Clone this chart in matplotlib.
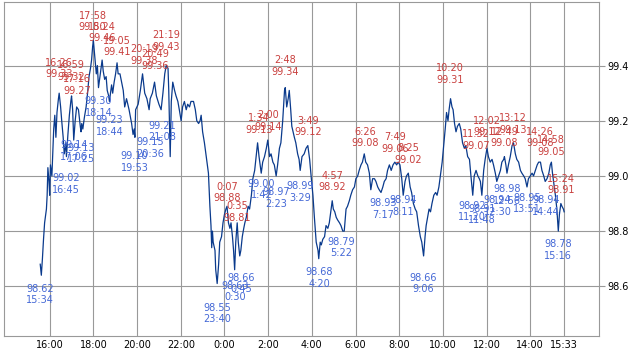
import matplotlib
matplotlib.use("Agg")
import matplotlib.pyplot as plt
import pandas as pd

# price trace (day 1 15:34 -> day 2 15:33)
line_times = [
    '15:34', '15:37', '15:40', '15:43', '15:46', '15:51', '15:53', '15:55', '15:58',
    '16:00', '16:02', '16:06', '16:09', '16:11', '16:14', '16:17', '16:20', '16:24', '16:26',
    '16:30', '16:33', '16:37', '16:40', '16:44', '16:46', '16:50', '16:54', '16:58',
    '17:00', '17:03', '17:06', '17:10', '17:14', '17:19', '17:24', '17:26', '17:28', '17:31',
    '17:35', '17:40', '17:44', '17:48', '17:52', '17:55', '17:58',
    '18:00', '18:04', '18:08', '18:11', '18:14', '18:17', '18:20', '18:24', '18:27', '18:31',
    '18:35', '18:38', '18:42', '18:44', '18:47', '18:50', '18:53', '18:57',
    '19:01', '19:05', '19:08', '19:13', '19:22', '19:26', '19:31', '19:38', '19:45', '19:49',
    '19:52', '19:54', '19:56',
    '20:03', '20:09', '20:15', '20:21', '20:27', '20:33', '20:36', '20:42', '20:48', '20:53',
    '21:00', '21:06', '21:11', '21:16', '21:20', '21:25', '21:27', '21:29', '21:31', '21:34',
    '21:38', '21:43', '21:47', '21:52', '21:56',
    '22:01', '22:05', '22:10', '22:15', '22:19', '22:24', '22:28', '22:35', '22:40', '22:44',
    '22:49', '22:53', '22:56',
    '23:00', '23:05', '23:09', '23:12', '23:16', '23:18', '23:20', '23:23', '23:25', '23:27',
    '23:29', '23:34', '23:36', '23:40', '23:44', '23:47', '23:52', '23:56',
    '0:00', '0:04', '0:07', '0:11', '0:15', '0:18', '0:22', '0:25', '0:28', '0:31', '0:35',
    '0:38', '0:42', '0:45', '0:49', '0:53', '0:56',
    '1:00', '1:05', '1:09', '1:14', '1:18', '1:23', '1:27', '1:31', '1:35', '1:38', '1:41',
    '1:45', '1:50', '1:55', '1:59',
    '2:04', '2:08', '2:13', '2:17', '2:22', '2:26', '2:31', '2:35', '2:40', '2:45', '2:47',
    '2:51', '2:55', '2:58',
    '3:02', '3:05', '3:12', '3:16', '3:21', '3:25', '3:28', '3:33', '3:39', '3:44', '3:49',
    '3:54', '3:58',
    '4:03', '4:07', '4:12', '4:17', '4:19', '4:23', '4:26', '4:30', '4:35', '4:39', '4:44',
    '4:48', '4:53', '4:56', '4:59',
    '5:03', '5:07', '5:11', '5:16', '5:20', '5:25', '5:29', '5:34', '5:38', '5:43', '5:47',
    '5:52', '5:57',
    '6:01', '6:06', '6:10', '6:15', '6:19', '6:24', '6:28', '6:33', '6:38', '6:42', '6:47',
    '6:52', '6:56',
    '7:01', '7:05', '7:10', '7:15', '7:19', '7:24', '7:28', '7:33', '7:38', '7:43', '7:48',
    '7:53', '7:57',
    '8:02', '8:07', '8:11', '8:16', '8:20', '8:25', '8:30', '8:34', '8:39', '8:44', '8:48',
    '8:53', '8:58',
    '9:02', '9:07', '9:11', '9:14', '9:18', '9:22', '9:26', '9:30', '9:35', '9:40', '9:44',
    '9:49', '9:53', '9:58',
    '10:03', '10:07', '10:10', '10:14', '10:17', '10:21', '10:25', '10:28', '10:32', '10:36',
    '10:40', '10:45', '10:49', '10:54', '10:59',
    '11:03', '11:08', '11:13', '11:17', '11:22', '11:26', '11:31', '11:36', '11:40', '11:43',
    '11:47', '11:52', '11:56',
    '12:01', '12:05', '12:10', '12:15', '12:19', '12:24', '12:28', '12:33', '12:38', '12:42',
    '12:47', '12:49', '12:53', '12:56',
    '13:00', '13:05', '13:10', '13:14', '13:19', '13:23', '13:28', '13:33', '13:37', '13:42',
    '13:46', '13:51', '13:55',
    '14:00', '14:05', '14:09', '14:14', '14:19', '14:23', '14:28', '14:32', '14:37', '14:41',
    '14:46', '14:51', '14:55', '14:58',
    '15:01', '15:04', '15:09', '15:13', '15:17', '15:20', '15:24', '15:27', '15:31', '15:33',
]
line_values = [
    98.68, 98.64, 98.70, 98.77, 98.83, 98.88, 98.93, 99.03, 98.98,
    98.93, 99.04, 99.00, 99.10, 99.17, 99.22, 99.14, 99.23, 99.28, 99.30,
    99.25, 99.20, 99.14, 99.08, 99.12, 99.07, 99.15, 99.22, 99.27,
    99.29, 99.24, 99.13, 99.20, 99.25, 99.24, 99.18, 99.16, 99.19, 99.17,
    99.21, 99.25, 99.30, 99.36, 99.39, 99.42, 99.47,
    99.49, 99.43, 99.37, 99.40, 99.32, 99.35, 99.38, 99.42, 99.38, 99.35,
    99.36, 99.31, 99.29, 99.27, 99.30, 99.33, 99.30, 99.34,
    99.37, 99.41, 99.37, 99.37, 99.31, 99.25, 99.28, 99.24, 99.19, 99.15,
    99.17, 99.14, 99.24,
    99.26, 99.31, 99.37, 99.30, 99.28, 99.24, 99.28, 99.30, 99.34, 99.29,
    99.26, 99.24, 99.30, 99.37, 99.40, 99.39, 99.31, 99.19, 99.07, 99.27,
    99.34, 99.31, 99.29, 99.27, 99.24,
    99.20, 99.25, 99.27, 99.24, 99.26, 99.25, 99.27, 99.27, 99.24, 99.20,
    99.19, 99.20, 99.22,
    99.16, 99.12, 99.08, 99.05, 99.01, 98.95, 98.89, 98.82, 98.74, 98.80,
    98.76, 98.73, 98.66, 98.61, 98.68, 98.76, 98.78, 98.83,
    98.86, 98.88, 98.89, 98.83, 98.81, 98.83, 98.78, 98.73, 98.66, 98.76, 98.83,
    98.76, 98.71, 98.73, 98.78, 98.81, 98.83,
    98.85, 98.89, 98.88, 98.93, 98.99, 99.02, 99.07, 99.12, 99.07, 99.04, 99.01,
    99.05, 99.07, 99.10, 99.13,
    99.07, 99.08, 99.05, 99.04, 99.00, 99.04, 99.10, 99.12, 99.20, 99.31, 99.32,
    99.25, 99.28, 99.31,
    99.24, 99.18, 99.14, 99.12, 99.08, 99.06, 99.02, 99.07, 99.08, 99.10, 99.11,
    99.06, 99.00,
    98.93, 98.85, 98.76, 98.73, 98.70, 98.76, 98.75, 98.77, 98.78, 98.82, 98.81,
    98.83, 98.88, 98.91, 98.88,
    98.87, 98.85, 98.84, 98.83, 98.82, 98.80, 98.80, 98.88, 98.89, 98.91, 98.93,
    98.95, 98.96,
    98.99, 99.00, 99.02, 99.04, 99.05, 99.08, 99.05, 99.04, 99.01, 98.95, 98.99,
    98.99, 98.98,
    98.96, 98.95, 98.94, 98.96, 98.98, 98.99, 99.02, 99.04, 99.02, 99.04, 99.05,
    99.04, 99.05,
    99.04, 98.99, 98.93, 98.98, 99.00, 99.01, 98.96, 98.94, 98.90, 98.88, 98.87,
    98.82, 98.78,
    98.76, 98.71, 98.78, 98.82, 98.85, 98.88, 98.87, 98.90, 98.93, 98.94, 98.93,
    98.96, 99.00, 99.05,
    99.12, 99.18, 99.23, 99.20, 99.24, 99.28, 99.25, 99.24, 99.19, 99.16,
    99.18, 99.19, 99.17, 99.12, 99.10,
    99.11, 99.07, 99.06, 99.00, 98.93, 99.00, 99.02, 99.00, 98.99, 98.98,
    98.93, 99.02, 99.06,
    99.10, 99.07, 99.05, 99.06, 99.04, 99.01, 98.98, 99.00, 99.02, 99.05,
    99.06, 99.07, 99.04, 99.01,
    99.04, 99.07, 99.11, 99.12, 99.08, 99.06, 99.05, 99.02, 99.01, 99.00,
    98.99, 98.96, 98.99,
    99.00, 99.01, 99.00, 99.02, 99.04, 99.05, 99.05, 99.02, 99.00, 98.98,
    98.99, 99.01, 99.04, 99.05,
    99.01, 98.98, 98.93, 98.88, 98.80, 98.86, 98.90, 98.89, 98.88, 98.87,
]

# swing highs (red) and lows (blue) written on the chart
high_times = ['16:26', '16:59', '17:16', '17:58', '18:24', '19:05', '20:19', '20:49', '21:19',
              '0:07', '0:35', '1:34', '2:00', '2:48', '3:49', '4:57', '6:26', '7:49', '8:25',
              '10:20', '11:32', '12:02', '12:49', '13:12', '14:26', '14:58', '15:24']
high_values = [99.33, 99.32, 99.27, 99.50, 99.46, 99.41, 99.38, 99.36, 99.43,
               98.88, 98.81, 99.13, 99.14, 99.34, 99.12, 98.92, 99.08, 99.06, 99.02,
               99.31, 99.07, 99.12, 99.08, 99.13, 99.08, 99.05, 98.91]
low_times = ['15:34', '16:45', '17:06', '17:25', '18:14', '18:44', '19:53', '20:36', '21:08',
             '23:40', '0:30', '0:45', '1:42', '2:23', '3:29', '4:20', '5:22', '7:17', '8:11',
             '9:06', '11:20', '11:48', '12:30', '12:56', '13:51', '14:44', '15:16']
low_values = [98.62, 99.02, 99.14, 99.13, 99.30, 99.23, 99.10, 99.15, 99.21,
              98.55, 98.63, 98.66, 99.00, 98.97, 98.99, 98.68, 98.79, 98.93, 98.94,
              98.66, 98.92, 98.91, 98.94, 98.98, 98.95, 98.94, 98.78]

tick_times = ['16:00', '18:00', '20:00', '22:00', '0:00', '2:00', '4:00', '6:00', '8:00',
              '10:00', '12:00', '14:00', '15:33']
y_ticks = [98.6, 98.8, 99.0, 99.2, 99.4]

BASE = pd.Timestamp('2024-01-01')


def to_stamps(times):
    # times are in order; a smaller clock time means the next day
    out = []
    day = 0
    prev = None
    for s in times:
        h, m = map(int, s.split(':'))
        mins = h * 60 + m
        if prev is not None and mins < prev:
            day += 1
        prev = mins
        out.append(BASE + pd.Timedelta(days=day, minutes=mins))
    return out


line_x = to_stamps(line_times)
high_x = to_stamps(high_times)
low_x = to_stamps(low_times)
tick_x = to_stamps(tick_times)

RED = '#c9403e'
BLUE = '#4468d6'
GRID = '#999999'

fig = plt.figure(figsize=(6.38, 3.54), dpi=100)
ax = fig.add_axes([0.006, 0.051, 0.933, 0.943])

ax.plot(line_x, line_values, color='#0a3a8c', lw=0.9)

for t, lab, v in zip(high_x, high_times, high_values):
    ax.annotate(lab + '\n' + '%.2f' % v, (t, v), xytext=(0, 4), textcoords='offset points',
                ha='center', va='bottom', color=RED, fontsize=7)
for t, lab, v in zip(low_x, low_times, low_values):
    ax.annotate('%.2f' % v + '\n' + lab, (t, v), xytext=(0, -2), textcoords='offset points',
                ha='center', va='top', color=BLUE, fontsize=7)

ax.set_xlim(BASE + pd.Timedelta(hours=13, minutes=54), BASE + pd.Timedelta(days=1, hours=17, minutes=9))
ax.set_ylim(98.42, 99.63)

ax.set_xticks(tick_x)
ax.set_xticklabels(tick_times)
ax.yaxis.tick_right()
ax.set_yticks(y_ticks)
ax.set_yticklabels(['%.1f' % v for v in y_ticks])
ax.tick_params(labelsize=7, color=GRID, length=4, pad=2)
ax.tick_params(axis='x', length=0, pad=3)

ax.grid(color=GRID, lw=0.8)
for sp in ax.spines.values():
    sp.set_color(GRID)

plt.savefig('out.png', dpi=100)
